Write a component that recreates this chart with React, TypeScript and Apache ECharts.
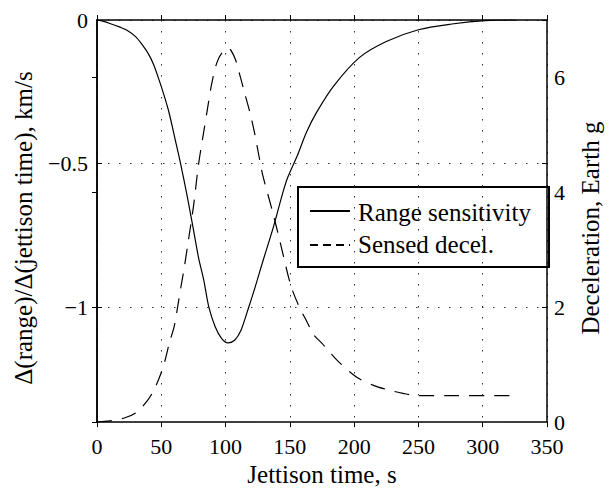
import React, { useEffect, useRef } from 'react';
import * as echarts from 'echarts';

// Axis ticks
const timeTicks = [0, 50, 100, 150, 200, 250, 300, 350];
const rangeTickValues = [0, -0.5, -1];
const decelTickValues = [0, 2, 4, 6];

// Axis names and legend labels
const xName = 'Jettison time, s';
const leftName = 'Δ(range)/Δ(jettison time), km/s';
const rightName = 'Deceleration, Earth g';
const seriesNames = ['Range sensitivity', 'Sensed decel.'];

// Range sensitivity (left axis, km/s)
const rangeTime = [0, 5, 10, 18, 23, 30, 35, 40, 44, 48, 52, 56, 61, 65, 70, 75, 79, 83, 87, 92, 97, 102, 107, 112, 118, 123, 129, 137, 144, 148, 156, 163, 171, 184, 204, 225, 250, 276, 302, 325];
const rangeSens = [0, -0.005, -0.012, -0.025, -0.035, -0.058, -0.085, -0.118, -0.155, -0.205, -0.26, -0.322, -0.42, -0.5, -0.61, -0.73, -0.828, -0.905, -1.0, -1.069, -1.109, -1.124, -1.115, -1.08, -1.0, -0.93, -0.84, -0.724, -0.61, -0.552, -0.47, -0.39, -0.32, -0.23, -0.131, -0.075, -0.034, -0.014, -0.002, 0];

// Sensed deceleration (right axis, Earth g)
const decelTime = [0, 10, 21.7, 30.7, 38.4, 43.4, 48.6, 52.5, 56.3, 60.1, 62.6, 65.1, 67.8, 71, 75, 79, 82.9, 86.7, 89.3, 93.1, 96.9, 102, 107.2, 111, 114.8, 118.7, 122.5, 126.4, 129, 136.6, 143, 150.6, 157, 163, 168.6, 175, 187, 202, 215, 225, 238, 250, 280, 325];
const decelValues = [0.0, 0.02, 0.075, 0.17, 0.35, 0.52, 0.78, 1.04, 1.38, 1.67, 1.99, 2.33, 2.68, 3.15, 3.75, 4.49, 5.04, 5.56, 5.9, 6.25, 6.42, 6.51, 6.34, 6.05, 5.73, 5.41, 5.04, 4.58, 4.29, 3.66, 3.08, 2.39, 2.02, 1.76, 1.52, 1.37, 1.07, 0.78, 0.64, 0.57, 0.5, 0.46, 0.46, 0.46];

const FONT = 'Liberation Serif';

export default function App() {
  const ref = useRef<HTMLDivElement>(null);

  useEffect(() => {
    if (!ref.current) return;
    const chart = echarts.init(ref.current, undefined, { renderer: 'svg' });

    const rangeData = rangeTime.map((t, i) => [t, rangeSens[i]]);
    const decelData = decelTime.map((t, i) => [t, decelValues[i]]);

    const axisLine = { show: true, lineStyle: { color: '#000', width: 1.5 } };
    const gridDots = { show: true, lineStyle: { color: '#333', width: 1, type: [1.5, 9.5] as number[] } };
    const tickStyle = { color: '#000', width: 1 };

    const lgX = 298, lgY = 187, lgW = 251, lgH = 80;

    chart.setOption({
      animation: false,
      backgroundColor: '#fff',
      textStyle: { fontFamily: FONT, color: '#000' },
      grid: { left: 97, top: 20, right: 58, bottom: 67, containLabel: false },
      xAxis: [
        {
          type: 'value',
          position: 'bottom',
          min: timeTicks[0],
          max: timeTicks[timeTicks.length - 1],
          interval: 50,
          name: xName,
          nameLocation: 'middle',
          nameGap: 37,
          nameTextStyle: { fontFamily: FONT, fontSize: 25, color: '#000' },
          axisLine,
          axisTick: { show: true, inside: true, length: 5, lineStyle: tickStyle },
          axisLabel: { fontFamily: FONT, fontSize: 22, color: '#000', margin: 13 },
          splitLine: gridDots,
        },
        {
          type: 'value',
          position: 'top',
          min: timeTicks[0],
          max: timeTicks[timeTicks.length - 1],
          interval: 50,
          axisLine,
          axisTick: { show: true, inside: true, length: 5, lineStyle: tickStyle },
          axisLabel: { show: false },
          splitLine: { show: false },
        },
      ],
      yAxis: [
        {
          type: 'value',
          position: 'left',
          min: -1.4,
          max: 0,
          name: leftName,
          nameLocation: 'middle',
          nameGap: 61,
          nameTextStyle: { fontFamily: FONT, fontSize: 25, color: '#000', padding: [0, 14, 0, 0] },
          axisLine,
          axisTick: { show: true, inside: true, length: 5, customValues: rangeTickValues, lineStyle: tickStyle },
          axisLabel: {
            fontFamily: FONT,
            fontSize: 22,
            color: '#000',
            margin: 9,
            customValues: rangeTickValues,
            formatter: (v: number) => (v === 0 ? '0' : String(v).replace('-', '\u2212')),
          },
          splitLine: gridDots,
        },
        {
          type: 'value',
          position: 'right',
          min: 0,
          max: 7,
          interval: 2,
          name: rightName,
          nameLocation: 'middle',
          nameGap: 31,
          nameTextStyle: { fontFamily: FONT, fontSize: 25, color: '#000', padding: [0, 14, 0, 0] },
          axisLine,
          axisTick: { show: true, inside: true, length: 5, customValues: decelTickValues, lineStyle: tickStyle },
          axisLabel: { fontFamily: FONT, fontSize: 22, color: '#000', margin: 7, customValues: decelTickValues },
          splitLine: { show: false },
        },
        {
          type: 'value',
          position: 'right',
          min: -1.4,
          max: 0,
          axisLine,
          axisTick: { show: true, inside: true, length: 5, customValues: rangeTickValues, lineStyle: tickStyle },
          axisLabel: { show: false },
          splitLine: { show: false },
        },
      ],
      series: [
        {
          name: seriesNames[0],
          type: 'line',
          xAxisIndex: 0,
          yAxisIndex: 0,
          data: rangeData,
          smooth: 0.3,
          showSymbol: false,
          lineStyle: { color: '#000', width: 1.2, type: 'solid' },
          z: 5,
        },
        {
          name: seriesNames[1],
          type: 'line',
          xAxisIndex: 0,
          yAxisIndex: 1,
          data: decelData,
          smooth: 0.3,
          showSymbol: false,
          lineStyle: { color: '#000', width: 1.2, type: [15, 10] as number[] },
          z: 5,
        },
      ],
      graphic: [
        {
          type: 'group',
          z: 100,
          children: [
            { type: 'rect', shape: { x: lgX, y: lgY, width: lgW, height: lgH }, style: { fill: '#fff', stroke: '#000', lineWidth: 2 } },
            { type: 'line', shape: { x1: 310, y1: 211, x2: 350, y2: 211 }, style: { stroke: '#000', lineWidth: 2 } },
            { type: 'line', shape: { x1: 310, y1: 245, x2: 350, y2: 245 }, style: { stroke: '#000', lineWidth: 2, lineDash: [8, 5] } },
            { type: 'text', x: 358, y: 212, style: { text: seriesNames[0], fontFamily: FONT, fontSize: 25, fill: '#000', verticalAlign: 'middle', align: 'left' } },
            { type: 'text', x: 358, y: 244, style: { text: seriesNames[1], fontFamily: FONT, fontSize: 25, fill: '#000', verticalAlign: 'middle', align: 'left' } },
          ],
        },
      ],
    });

    return () => chart.dispose();
  }, []);

  return <div ref={ref} style={{ position: 'absolute', left: 0, top: 0, width: 611, height: 492, background: '#fff' }} />;
}
